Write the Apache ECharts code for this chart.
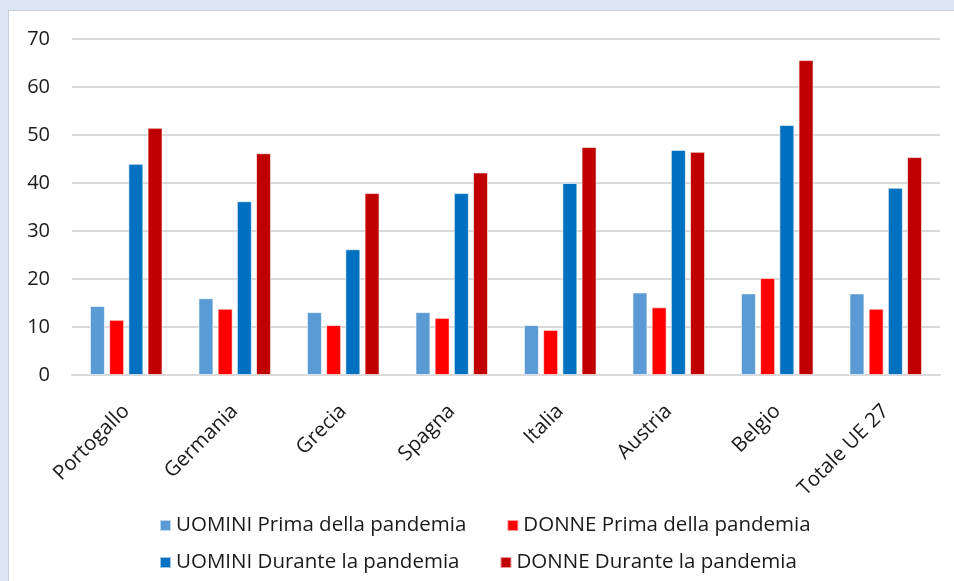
<!DOCTYPE html>
<html>
<head>
<meta charset="utf-8">
<script src="https://cdn.jsdelivr.net/npm/echarts@6/dist/echarts.min.js"></script>
<style>
html,body{margin:0;padding:0;width:954px;height:581px;background:#dce6f2;overflow:hidden;}
#panel{position:absolute;left:8px;top:10px;width:960px;height:600px;background:#fff;border:1px solid #c8cfd8;}
#chart{position:absolute;left:0;top:0;width:954px;height:581px;}
</style>
</head>
<body>
<div id="panel"></div>
<div id="chart"></div>
<script>
const categories = ['Portogallo','Germania','Grecia','Spagna','Italia','Austria','Belgio','Totale UE 27'];
const seriesNames = ['UOMINI Prima della pandemia','DONNE Prima della pandemia','UOMINI Durante la pandemia','DONNE Durante la pandemia'];
const uominiPrima = [14.4, 16.0, 13.1, 13.1, 10.4, 17.2, 17.0, 17.0];
const donnePrima = [11.5, 13.8, 10.4, 11.9, 9.4, 14.1, 20.2, 13.8];
const uominiDurante = [44.0, 36.2, 26.2, 37.9, 40.0, 46.9, 52.1, 39.0];
const donneDurante = [51.5, 46.2, 37.9, 42.2, 47.5, 46.5, 65.6, 45.4];
const yTicks = [0, 10, 20, 30, 40, 50, 60, 70];

const colors = ['#5B9BD5', '#FF0000', '#0070C0', '#C00000'];
const values = [uominiPrima, donnePrima, uominiDurante, donneDurante];
const FONT = 'Open Sans';
const TXT = '#1a1a1a';

const chart = echarts.init(document.getElementById('chart'), null, {renderer:'canvas'});
chart.setOption({
  animation: false,
  backgroundColor: 'transparent',
  color: colors,
  textStyle: {fontFamily: FONT},
  grid: {left: 72, right: 14, top: 39, bottom: 206, containLabel: false},
  xAxis: {
    type: 'category',
    data: categories,
    axisLine: {show: true, lineStyle: {color: '#d9d9d9', width: 2}},
    axisTick: {show: false},
    axisLabel: {rotate: 45, fontSize: 20.5, color: TXT, margin: 33, fontFamily: FONT, interval: 0}
  },
  yAxis: {
    type: 'value',
    min: yTicks[0],
    max: yTicks[yTicks.length - 1],
    interval: 10,
    axisLine: {show: false},
    axisTick: {show: false},
    splitLine: {lineStyle: {color: '#d9d9d9', width: 2}},
    axisLabel: {fontSize: 20, color: TXT, margin: 22, fontFamily: FONT}
  },
  legend: [
    {
      data: [seriesNames[0], seriesNames[1]],
      left: 154, top: 510,
      itemWidth: 11, itemHeight: 11, itemGap: 40,
      icon: 'rect',
      textStyle: {fontSize: 20.5, color: TXT, fontFamily: FONT}
    },
    {
      data: [seriesNames[2], seriesNames[3]],
      left: 154, top: 547,
      itemWidth: 11, itemHeight: 11, itemGap: 40,
      icon: 'rect',
      textStyle: {fontSize: 20.5, color: TXT, fontFamily: FONT}
    }
  ],
  series: seriesNames.map((name, i) => ({
    name: name,
    type: 'bar',
    data: values[i],
    barWidth: 15,
    barGap: '28%',
    itemStyle: {color: colors[i], borderColor: 'rgba(255,255,255,0.6)', borderWidth: 1}
  }))
});
</script>
</body>
</html>
